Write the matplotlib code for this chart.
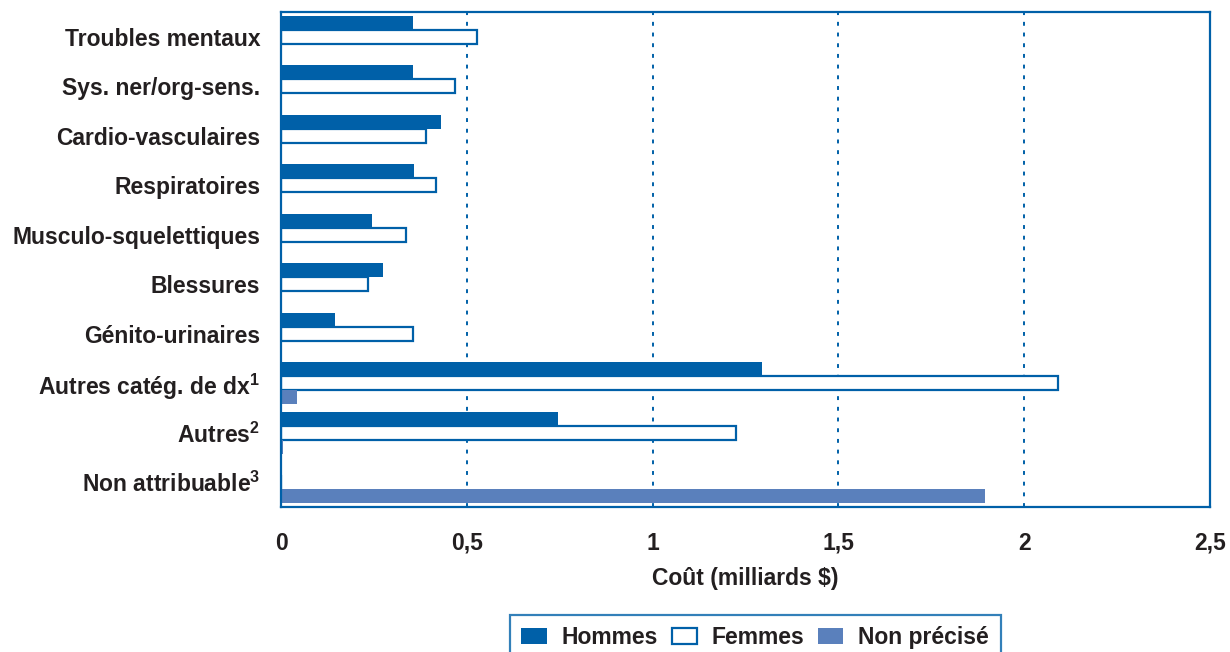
import numpy as np
import matplotlib
matplotlib.use('Agg')
import matplotlib.pyplot as plt

plt.rcParams['font.family'] = ['Liberation Sans', 'DejaVu Sans']
plt.rcParams['font.weight'] = 'bold'
plt.rcParams['mathtext.fontset'] = 'custom'
plt.rcParams['mathtext.rm'] = 'Liberation Sans:bold'
plt.rcParams['mathtext.default'] = 'rm'

categories = ['Troubles mentaux', 'Sys. ner/org-sens.', 'Cardio-vasculaires', 'Respiratoires',
              'Musculo-squelettiques', 'Blessures', 'Génito-urinaires',
              'Autres catég. de dx$^1$', 'Autres$^2$', 'Non attribuable$^3$']
hommes = [0.355, 0.355, 0.43, 0.358, 0.245, 0.274, 0.145, 1.294, 0.745, 0.0]
femmes = [0.527, 0.468, 0.39, 0.417, 0.336, 0.234, 0.355, 2.091, 1.224, 0.0]
non_precise = [0.003, 0.003, 0.003, 0.003, 0.002, 0.003, 0.0, 0.043, 0.005, 1.894]
xticks = [0, 0.5, 1, 1.5, 2, 2.5]
xticklabels = ['0', '0,5', '1', '1,5', '2', '2,5']

bleu = '#0060a8'
bleu_clair = '#5a80bc'
texte = '#231f20'

fig = plt.figure(figsize=(12.3, 6.52), dpi=100)
ax = fig.add_axes([0.2285, 0.2224, 0.7552, 0.7592])

y = np.arange(len(categories))
h = 0.28
ax.barh(y - h, hommes, height=h, color=bleu, label='Hommes')
ax.barh(y, femmes, height=h, color='white', edgecolor=bleu, linewidth=1.6, label='Femmes')
ax.barh(y + h, non_precise, height=h, color=bleu_clair, label='Non précisé')

ax.set_ylim(len(categories) - 0.5, -0.5)
ax.set_xlim(0, 2.5)
ax.set_yticks(y)
ax.set_yticklabels(categories, fontsize=16.5, fontweight='bold', color=texte)
ax.set_xticks(xticks)
ax.set_xticklabels(xticklabels, fontsize=16.5, fontweight='bold', color=texte)
ax.tick_params(length=0)
ax.tick_params(axis='x', pad=18)
ax.tick_params(axis='y', pad=15)

# lignes pointillées verticales
for g in xticks[1:-1]:
    ax.axvline(g, color=bleu, linestyle=(0, (2, 3.5)), linewidth=1.4, zorder=0)

for s in ax.spines.values():
    s.set_color(bleu)
    s.set_linewidth(1.6)

ax.set_xlabel('Coût (milliards $)', fontsize=16.5, fontweight='bold', color=texte, labelpad=9)

leg = fig.legend(loc='upper center', bbox_to_anchor=(0.614, 0.057), ncol=3, frameon=True,
                 fancybox=False, edgecolor=bleu, fontsize=16.5, handlelength=1.1, handleheight=0.72,
                 columnspacing=0.6, handletextpad=0.65, borderpad=0.5, borderaxespad=0)
leg.get_frame().set_linewidth(1.6)
for t in leg.get_texts():
    t.set_color(texte)

fig.savefig('out.png', dpi=100)
